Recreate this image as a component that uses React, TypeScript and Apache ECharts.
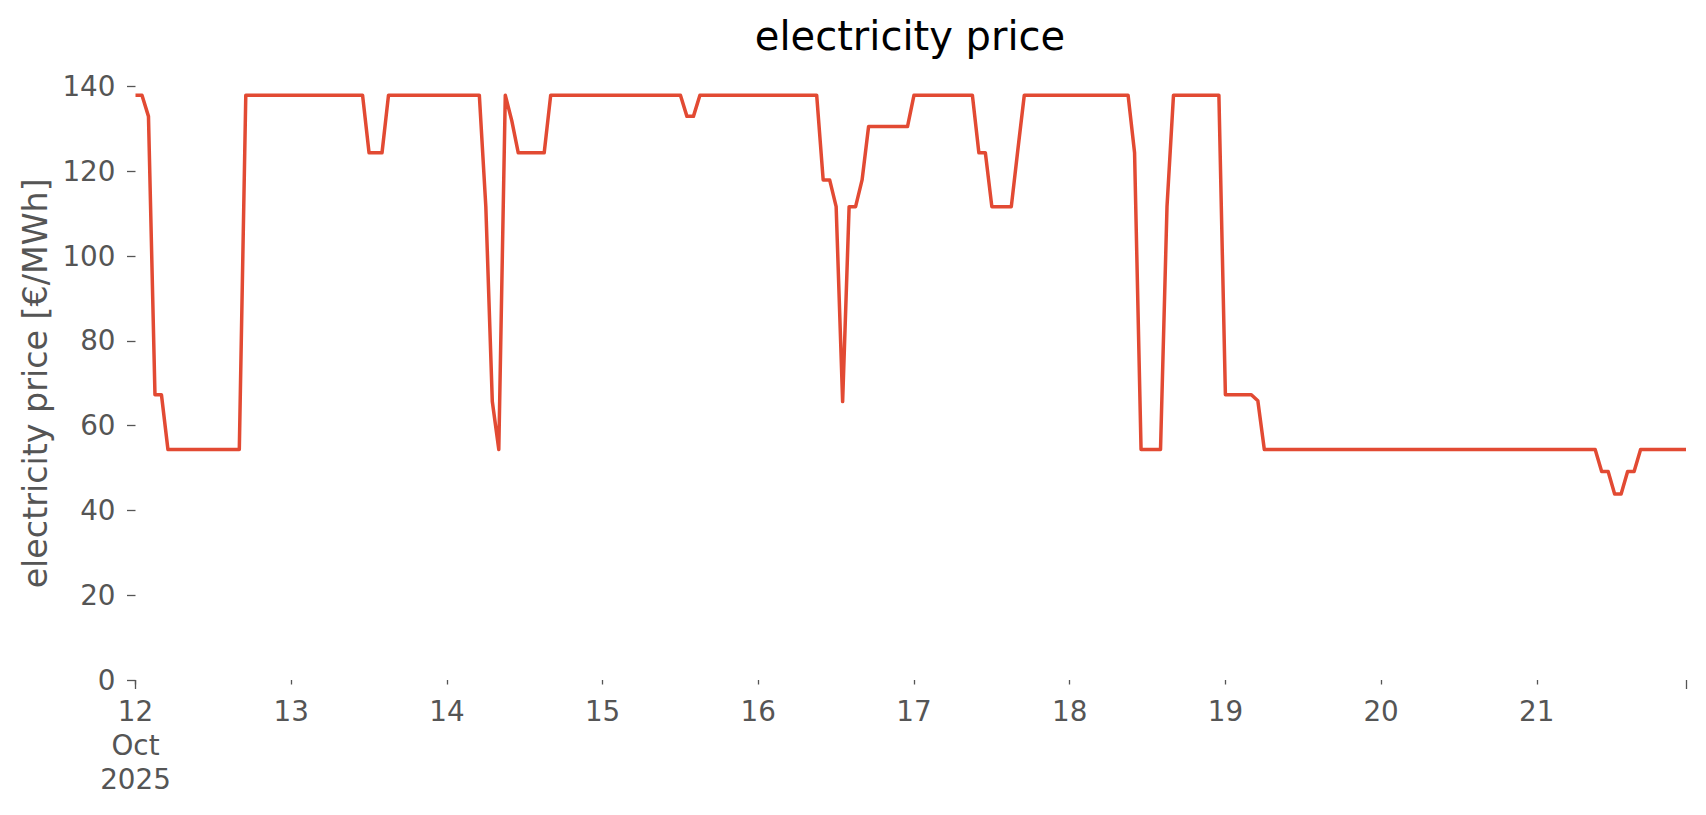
import React, { useEffect, useRef } from "react";
import * as echarts from "echarts";

// Hourly electricity prices, 2025-10-12 00:00 … 2025-10-21 23:00 (one row per day)
const START = "2025-10-12T00:00";
const STEP_HOURS = 1;
const prices: number[] = [
  // 12 Oct
  138, 138, 133, 67.3, 67.3, 54.4, 54.4, 54.4, 54.4, 54.4, 54.4, 54.4, 54.4, 54.4, 54.4, 54.4, 54.4, 138, 138, 138, 138, 138, 138, 138,
  // 13 Oct
  138, 138, 138, 138, 138, 138, 138, 138, 138, 138, 138, 138, 124.4, 124.4, 124.4, 138, 138, 138, 138, 138, 138, 138, 138, 138,
  // 14 Oct
  138, 138, 138, 138, 138, 138, 111.7, 65.7, 54.4, 138, 132, 124.4, 124.4, 124.4, 124.4, 124.4, 138, 138, 138, 138, 138, 138, 138, 138,
  // 15 Oct
  138, 138, 138, 138, 138, 138, 138, 138, 138, 138, 138, 138, 138, 133, 133, 138, 138, 138, 138, 138, 138, 138, 138, 138,
  // 16 Oct
  138, 138, 138, 138, 138, 138, 138, 138, 138, 138, 118, 118, 111.7, 65.7, 111.7, 111.7, 118, 130.6, 130.6, 130.6, 130.6, 130.6, 130.6, 130.6,
  // 17 Oct
  138, 138, 138, 138, 138, 138, 138, 138, 138, 138, 124.4, 124.4, 111.7, 111.7, 111.7, 111.7, 125, 138, 138, 138, 138, 138, 138, 138,
  // 18 Oct
  138, 138, 138, 138, 138, 138, 138, 138, 138, 138, 124.4, 54.4, 54.4, 54.4, 54.4, 111.7, 138, 138, 138, 138, 138, 138, 138, 138,
  // 19 Oct
  67.3, 67.3, 67.3, 67.3, 67.3, 65.9, 54.4, 54.4, 54.4, 54.4, 54.4, 54.4, 54.4, 54.4, 54.4, 54.4, 54.4, 54.4, 54.4, 54.4, 54.4, 54.4, 54.4, 54.4,
  // 20 Oct
  54.4, 54.4, 54.4, 54.4, 54.4, 54.4, 54.4, 54.4, 54.4, 54.4, 54.4, 54.4, 54.4, 54.4, 54.4, 54.4, 54.4, 54.4, 54.4, 54.4, 54.4, 54.4, 54.4, 54.4,
  // 21 Oct
  54.4, 54.4, 54.4, 54.4, 54.4, 54.4, 54.4, 54.4, 54.4, 54.4, 49.2, 49.2, 43.9, 43.9, 49.2, 49.2, 54.4, 54.4, 54.4, 54.4, 54.4, 54.4, 54.4, 54.4,
];
const dayLabels: string[] = ["12\nOct\n2025", "13", "14", "15", "16", "17", "18", "19", "20", "21"];
const yTicks: number[] = [0, 20, 40, 60, 80, 100, 120, 140];
const TITLE = "electricity price";
const Y_NAME = "electricity price [€/MWh]";

const FONT = "DejaVu Sans";
const TICK_COLOR = "#555555";
const LINE_COLOR = "#E24A33";

export default function App() {
  const ref = useRef<HTMLDivElement>(null);
  useEffect(() => {
    if (!ref.current) return;
    const chart = echarts.init(ref.current, null, { renderer: "svg" });
    const lastHour = (prices.length - 1) * STEP_HOURS;
    const data = prices.map((p, i) => [i * STEP_HOURS, p]);
    chart.setOption({
      animation: false,
      backgroundColor: "#ffffff",
      title: {
        text: TITLE,
        left: 910,
        top: 16,
        padding: 0,
        textAlign: "center",
        textStyle: { fontFamily: FONT, fontSize: 40, fontWeight: "normal", color: "#000000" },
      },
      grid: { left: 135.5, right: 20, top: 86.7, bottom: 135, containLabel: false },
      xAxis: [
        {
          type: "value",
          min: 0,
          max: lastHour,
          interval: 24,
          splitLine: { show: false },
          axisLine: { show: false },
          axisTick: { show: true, length: 4.5, lineStyle: { color: TICK_COLOR, width: 1.3 } },
          axisLabel: {
            show: true,
            showMaxLabel: false,
            margin: 14,
            fontFamily: FONT,
            fontSize: 27.8,
            lineHeight: 34,
            color: TICK_COLOR,
            align: "center",
            formatter: (v: number) => {
              if (v % 24 !== 0) return "";
              const d = v / 24;
              return d < dayLabels.length ? dayLabels[d] : "";
            },
          },
        },
        {
          type: "value",
          min: 0,
          max: lastHour,
          interval: lastHour,
          position: "bottom",
          offset: 0,
          splitLine: { show: false },
          axisLine: { show: false },
          axisTick: { show: true, length: 9, lineStyle: { color: TICK_COLOR, width: 1.3 } },
          axisLabel: { show: false },
        },
      ],
      yAxis: {
        type: "value",
        min: yTicks[0],
        max: yTicks[yTicks.length - 1],
        interval: 20,
        name: Y_NAME,
        nameLocation: "middle",
        nameRotate: 90,
        nameGap: 83,
        nameTextStyle: { fontFamily: FONT, fontSize: 33.3, color: TICK_COLOR },
        splitLine: { show: false },
        axisLine: { show: false },
        axisTick: { show: true, length: 8.5, lineStyle: { color: TICK_COLOR, width: 1.3 } },
        axisLabel: { margin: 20, fontFamily: FONT, fontSize: 27.8, color: TICK_COLOR },
      },
      series: [
        {
          type: "line",
          xAxisIndex: 0,
          data,
          showSymbol: false,
          symbol: "none",
          lineStyle: { color: LINE_COLOR, width: 3.5, join: "round" },
          itemStyle: { color: LINE_COLOR },
        },
      ],
    });
    return () => chart.dispose();
  }, []);
  return (
    <div
      ref={ref}
      data-start={START}
      style={{ position: "fixed", left: 0, top: 0, width: 1706, height: 815, background: "#fff" }}
    />
  );
}
